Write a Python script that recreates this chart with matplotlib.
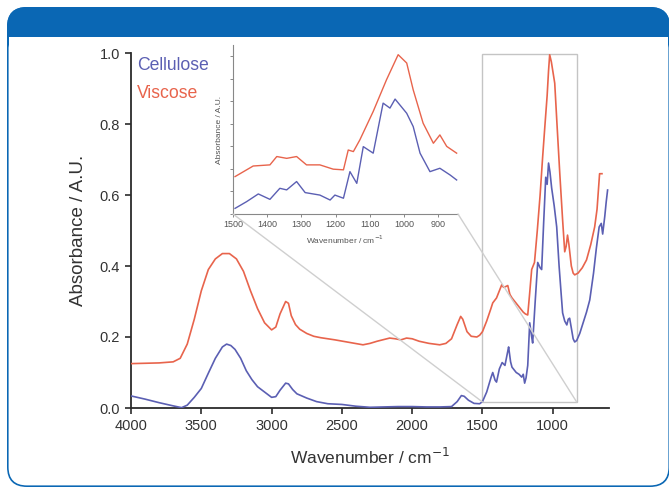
import matplotlib
matplotlib.use("Agg")
import matplotlib.pyplot as plt
from matplotlib.patches import FancyBboxPatch, Rectangle, ConnectionPatch

plt.rcParams['font.family'] = ['Liberation Sans', 'DejaVu Sans']

BLUE_LINE = "#5b5fb3"
RED_LINE = "#e8644c"
FRAME = "#0a67b4"
TXT = "#333333"

# main spectra (wavenumber / absorbance)
cell_wn = [4000, 3900, 3800, 3700, 3640, 3600, 3550, 3500, 3450, 3400, 3350, 3320,
           3290, 3260, 3220, 3180, 3140, 3100, 3050, 3000, 2970, 2940, 2900, 2880,
           2850, 2820, 2750, 2680, 2600, 2500, 2400, 2300, 2200, 2100, 2000, 1900,
           1800, 1720, 1680, 1650, 1630, 1600, 1560, 1520, 1500, 1470, 1440, 1427,
           1410, 1400, 1380, 1360, 1340, 1320, 1314, 1300, 1290, 1260, 1240, 1221,
           1210, 1200, 1190, 1178, 1164, 1150, 1143, 1125, 1107, 1090, 1079, 1065,
           1050, 1040, 1030, 1020, 1008, 990, 972, 955, 940, 930, 915, 900, 890, 880,
           870, 855, 844, 830, 808, 780, 760, 737, 710, 690, 670, 655, 645, 630, 620, 610]
cell_abs = [0.034, 0.025, 0.015, 0.006, 0.001, 0.008, 0.030, 0.055, 0.098, 0.140, 0.172, 0.180,
            0.176, 0.165, 0.140, 0.105, 0.080, 0.060, 0.045, 0.030, 0.032, 0.050, 0.070, 0.068,
            0.052, 0.040, 0.028, 0.018, 0.012, 0.010, 0.005, 0.002, 0.003, 0.004, 0.004, 0.003,
            0.003, 0.004, 0.018, 0.035, 0.033, 0.022, 0.013, 0.012, 0.018, 0.045, 0.085, 0.100,
            0.078, 0.073, 0.110, 0.128, 0.120, 0.160, 0.172, 0.130, 0.115, 0.100, 0.095, 0.087,
            0.095, 0.070, 0.085, 0.120, 0.240, 0.200, 0.183, 0.300, 0.410, 0.395, 0.390, 0.520,
            0.650, 0.630, 0.690, 0.665, 0.620, 0.570, 0.510, 0.400, 0.320, 0.268, 0.245, 0.234, 0.250, 0.253,
            0.230, 0.195, 0.186, 0.190, 0.210, 0.245, 0.270, 0.304, 0.380, 0.450, 0.510, 0.520, 0.490, 0.540, 0.580, 0.614]

visc_wn = [4000, 3900, 3800, 3700, 3650, 3600, 3550, 3500, 3450, 3400, 3350, 3300,
           3250, 3200, 3150, 3100, 3050, 3000, 2970, 2940, 2900, 2880, 2860, 2830,
           2800, 2750, 2700, 2650, 2550, 2450, 2350, 2300, 2250, 2160, 2120, 2080,
           2040, 2000, 1950, 1880, 1804, 1760, 1720, 1680, 1655, 1640, 1610, 1580,
           1540, 1520, 1500, 1470, 1440, 1427, 1400, 1380, 1363, 1350, 1335, 1320,
           1305, 1290, 1270, 1240, 1210, 1195, 1178, 1165, 1150, 1130, 1110, 1090,
           1072, 1055, 1040, 1030, 1022, 1010, 996, 986, 970, 950, 930, 915, 905,
           895, 885, 868, 855, 844, 820, 790, 760, 730, 702, 685, 667, 650]
visc_abs = [0.125, 0.126, 0.127, 0.130, 0.140, 0.180, 0.250, 0.330, 0.390, 0.420, 0.435, 0.435,
            0.420, 0.385, 0.330, 0.280, 0.240, 0.220, 0.228, 0.265, 0.300, 0.295, 0.260, 0.235,
            0.222, 0.210, 0.202, 0.198, 0.192, 0.185, 0.178, 0.182, 0.188, 0.197, 0.195, 0.192,
            0.197, 0.195, 0.188, 0.182, 0.178, 0.182, 0.195, 0.235, 0.258, 0.250, 0.215, 0.202,
            0.200, 0.205, 0.215, 0.245, 0.280, 0.296, 0.310, 0.330, 0.347, 0.340, 0.342, 0.345,
            0.320, 0.310, 0.300, 0.285, 0.270, 0.265, 0.262, 0.320, 0.390, 0.410, 0.500, 0.600,
            0.707, 0.800, 0.880, 0.950, 0.995, 0.975, 0.940, 0.915, 0.800, 0.660, 0.530, 0.440, 0.455,
            0.487, 0.460, 0.400, 0.380, 0.375, 0.380, 0.395, 0.417, 0.460, 0.510, 0.560, 0.660, 0.660]

# inset (zoomed fingerprint region, arbitrary units)
ins_cell_wn = [1494, 1460, 1426, 1392, 1363, 1343, 1314, 1289, 1246, 1216, 1202, 1177,
               1158, 1138, 1119, 1090, 1061, 1041, 1026, 992, 973, 953, 924, 895, 865, 846]
ins_cell = [0.25, 0.55, 0.89, 0.65, 1.14, 1.07, 1.44, 0.95, 0.84, 0.62, 0.84, 0.70,
            1.88, 1.36, 2.99, 2.70, 4.92, 4.70, 5.10, 4.47, 3.88, 2.70, 1.88, 2.03, 1.73, 1.51]
ins_visc_wn = [1494, 1441, 1392, 1372, 1343, 1314, 1285, 1246, 1207, 1177, 1163, 1148,
               1129, 1090, 1051, 1017, 992, 973, 944, 914, 895, 875, 846]
ins_visc = [1.66, 2.13, 2.18, 2.55, 2.47, 2.55, 2.18, 2.18, 1.99, 1.96, 2.84, 2.77,
            3.29, 4.55, 5.96, 7.07, 6.70, 5.51, 4.03, 3.14, 3.51, 3.00, 2.70]

box_lo, box_hi = 1500, 830

W, H = 669, 488
fig = plt.figure(figsize=(W / 100, H / 100), dpi=100)

# panel frame with blue header
bg = fig.add_axes([0, 0, 1, 1])
bg.set_xlim(0, W)
bg.set_ylim(H, 0)
bg.axis('off')
r = 20
bg.add_patch(FancyBboxPatch((7, 7), 663, 480, boxstyle=f"round,pad=0,rounding_size={r}",
                            fc=FRAME, ec='none'))
bg.add_patch(FancyBboxPatch((8.6, 8.6), 659.8, 476.8, boxstyle=f"round,pad=0,rounding_size={r - 1.6}",
                            fc='white', ec='none'))
bg.add_patch(FancyBboxPatch((7, 7), 663, 30 + r, boxstyle=f"round,pad=0,rounding_size={r}",
                            fc=FRAME, ec='none'))
bg.add_patch(Rectangle((8.6, 37), 659.8, r + 2, fc='white', ec='none'))

# main plot
ax = fig.add_axes([131 / W, 1 - 408 / H, 478 / W, 355 / H])
ax.set_facecolor('none')
ax.plot(cell_wn, cell_abs, color=BLUE_LINE, lw=1.2, zorder=3)
ax.plot(visc_wn, visc_abs, color=RED_LINE, lw=1.2, zorder=3)
ax.set_xlim(4000, 600)
ax.set_ylim(0, 1.0)
ax.set_xticks([4000, 3500, 3000, 2500, 2000, 1500, 1000])
ax.set_yticks([0.0, 0.2, 0.4, 0.6, 0.8, 1.0])
ax.set_yticklabels(["0.0", "0.2", "0.4", "0.6", "0.8", "1.0"])
for s in ['top', 'right']:
    ax.spines[s].set_visible(False)
for s in ['left', 'bottom']:
    ax.spines[s].set_linewidth(1.3)
    ax.spines[s].set_color('#2b2b2b')
ax.tick_params(length=4, width=1.2, color='#2b2b2b', labelsize=10.5, labelcolor=TXT, pad=4)
ax.set_xlabel("Wavenumber / cm$^{-1}$", fontsize=12.5, color=TXT, labelpad=10)
ax.set_ylabel("Absorbance / A.U.", fontsize=13.5, color=TXT, labelpad=9)

ax.text(0.012, 0.965, "Cellulose", transform=ax.transAxes, color=BLUE_LINE, fontsize=12.7, va='center')
ax.text(0.012, 0.885, "Viscose", transform=ax.transAxes, color=RED_LINE, fontsize=12.7, va='center')

ax.add_patch(Rectangle((box_lo, 0.017), box_hi - box_lo, 0.98, fill=False,
                       ec='#c4c4c4', lw=1.0, zorder=2))

# inset
ins = fig.add_axes([233 / W, 1 - 214 / H, 225 / W, 169 / H])
ins.set_facecolor('none')
ins.plot(ins_cell_wn, ins_cell, color=BLUE_LINE, lw=1.0)
ins.plot(ins_visc_wn, ins_visc, color=RED_LINE, lw=1.0)
ins.set_xlim(1500, 842)
ins.set_ylim(0, 7.5)
ins.set_xticks([1500, 1400, 1300, 1200, 1100, 1000, 900])
ins.set_yticks(range(0, 8))
ins.set_yticklabels([])
for s in ['top', 'right']:
    ins.spines[s].set_visible(False)
for s in ['left', 'bottom']:
    ins.spines[s].set_linewidth(0.8)
    ins.spines[s].set_color('#888888')
ins.tick_params(length=2.5, width=0.7, color='#888888', labelsize=6.5, labelcolor='#555555', pad=2)
ins.set_xlabel("Wavenumber / cm$^{-1}$", fontsize=6, color='#555555', labelpad=3)
ins.set_ylabel("Absorbance / A.U.", fontsize=6, color='#555555', labelpad=3)

for xa, xb in [(0, box_lo), (1, box_hi)]:
    con = ConnectionPatch(xyA=(xa, 0), coordsA=ins.transAxes, xyB=(xb, 0.017), coordsB=ax.transData,
                          color='#cfcfcf', lw=1.0, zorder=1)
    fig.add_artist(con)

fig.savefig("out.png", dpi=100)
